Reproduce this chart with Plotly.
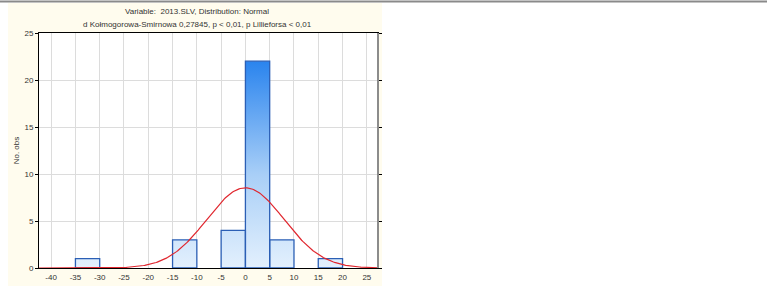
import numpy as np
import plotly.graph_objects as go

# Data
bin_lefts = [-35, -15, -5, 0, 5, 15]
bin_width = 5
counts = [1, 3, 4, 22, 3, 1]
n_obs = 34
fit_mean = 0.0
fit_sd = 7.95
x_ticks = [-40, -35, -30, -25, -20, -15, -10, -5, 0, 5, 10, 15, 20, 25]
y_ticks = [0, 5, 10, 15, 20, 25]
title_l1 = "Variable:  2013.SLV, Distribution: Normal"
title_l2 = "d Kołmogorowa-Smirnowa 0,27845, p < 0,01, p Lillieforsa < 0,01"
y_title = "No. obs"

# build bar polygons
bx, by = [], []
for left, c in zip(bin_lefts, counts):
    r = left + bin_width
    bx += [left, left, r, r, left, None]
    by += [0, c, c, 0, 0, None]

xs = np.linspace(-42.5, 27.5, 300)
ys = n_obs * bin_width / (fit_sd * np.sqrt(2 * np.pi)) * np.exp(-0.5 * ((xs - fit_mean) / fit_sd) ** 2)

fig = go.Figure()
fig.add_trace(go.Scatter(
    x=bx, y=by, mode="lines", fill="toself",
    line=dict(color="#2b5fb5", width=1.3),
    fillgradient=dict(type="vertical", start=0, stop=22,
                      colorscale=[[0, "#e3f0fd"], [0.45, "#a9cff7"], [1, "#2a84ee"]]),
    hoverinfo="skip", showlegend=False))
fig.add_trace(go.Scatter(x=xs, y=ys, mode="lines",
                         line=dict(color="#e0262e", width=1.2),
                         hoverinfo="skip", showlegend=False))

L, R, T, B = 39, 389, 33, 20
W, H = 767, 288
pw, ph = W - L - R, H - T - B
def px(xp): return (xp - L) / pw
def py(yp): return (H - B - yp) / ph

shapes = [
    dict(type="rect", xref="paper", yref="paper", x0=px(8), x1=px(382), y0=py(286), y1=py(3),
         fillcolor="#fffcee", line=dict(width=0), layer="below"),
    dict(type="rect", xref="paper", yref="paper", x0=0, x1=1, y0=0, y1=1,
         fillcolor="white", line=dict(width=0), layer="below"),
    dict(type="line", xref="paper", yref="paper", x0=px(0), x1=px(767), y0=py(1.5), y1=py(1.5),
         line=dict(color="#8a8a8a", width=2)),
    dict(type="line", xref="paper", yref="paper", x0=1, x1=1, y0=0, y1=1,
         line=dict(color="#8c8c8c", width=2)),
]

fig.update_layout(
    width=W, height=H,
    margin=dict(l=L, r=R, t=T, b=B, autoexpand=False),
    paper_bgcolor="white", plot_bgcolor="white",
    font=dict(family="Liberation Sans, Arial", size=8, color="#333333"),
    shapes=shapes,
    annotations=[
        dict(text=title_l1, xref="paper", yref="paper", x=px(197), y=py(12),
             showarrow=False, font=dict(size=8, color="#333333"), xanchor="center", yanchor="middle"),
        dict(text=title_l2, xref="paper", yref="paper", x=px(197), y=py(24),
             showarrow=False, font=dict(size=8, color="#333333"), xanchor="center", yanchor="middle"),
    ],
)
fig.update_xaxes(range=[-42.5, 27.3], tickvals=x_ticks, ticktext=[str(v) for v in x_ticks],
                 showgrid=True, gridcolor="#dcdcdc", gridwidth=1, automargin=False,
                 showline=True, linecolor="black", linewidth=1, mirror=True,
                 ticks="outside", ticklen=1, tickcolor="rgba(0,0,0,0)",
                 zeroline=False, tickfont=dict(size=8, color="#333333"))
fig.update_yaxes(range=[0, 25], tickvals=y_ticks, showgrid=True, gridcolor="#dcdcdc", gridwidth=1,
                 automargin=False,
                 showline=True, linecolor="black", linewidth=1, mirror="ticks",
                 ticks="outside", ticklen=3, tickcolor="black", zeroline=False,
                 tickfont=dict(size=8, color="#333333"),
                 title=dict(text=y_title, font=dict(size=8, color="#333333"), standoff=3))

fig.write_html("out.html")
